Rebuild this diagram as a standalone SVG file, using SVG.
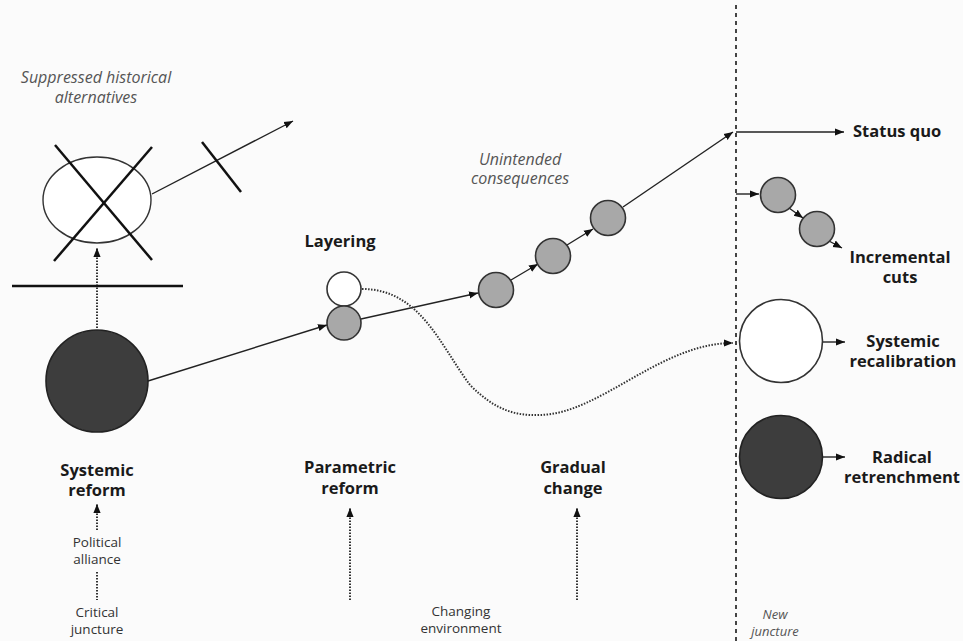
<svg xmlns="http://www.w3.org/2000/svg" width="963" height="641" viewBox="0 0 963 641">
  <style>
    .lbl { font-family: "Open Sans", "DejaVu Sans", sans-serif; font-weight: bold; font-size: 16.5px; fill: #1a1a1a; text-anchor: middle; }
    .lbl.start { text-anchor: start; }
    .note { font-family: "Open Sans", "DejaVu Sans", sans-serif; font-style: italic; font-size: 16px; fill: #555; text-anchor: middle; }
    .note.sm { font-size: 13px; }
    .small { font-family: "Open Sans", "DejaVu Sans", sans-serif; font-size: 13.5px; fill: #333; text-anchor: middle; }
    .line { stroke: #222; stroke-width: 1.4; fill: none; }
    .dot { stroke: #333; stroke-width: 2; stroke-dasharray: 1.5 1.5; fill: none; }
    .bar { stroke: #111; stroke-width: 2.5; fill: none; }
    .grey { fill: #a8a8a8; stroke: #333; stroke-width: 1.6; }
    .white { fill: #fff; stroke: #333; stroke-width: 1.6; }
    .dark { fill: #3d3d3d; stroke: #222; stroke-width: 1.6; }
  </style>
  <defs>
    <marker id="arr" viewBox="0 0 10 10" refX="10" refY="5" markerWidth="9" markerHeight="9" markerUnits="userSpaceOnUse" orient="auto">
      <path d="M0,1 L10,5 L0,9 Z" fill="#111"/>
    </marker>
  </defs>
  <rect width="963" height="641" fill="#fbfbfb"/>

  <!-- juncture divider -->
  <line x1="736" y1="5" x2="736" y2="641" stroke="#444" stroke-width="2" stroke-dasharray="4 4"/>

  <!-- connectors -->
  <g id="connectors">
    <line class="line" x1="152" y1="194" x2="293" y2="121" marker-end="url(#arr)"/>
    <line class="dot" x1="97" y1="328" x2="97" y2="248" marker-end="url(#arr)"/>
    <line class="line" x1="148" y1="381" x2="327" y2="325" marker-end="url(#arr)"/>
    <line class="line" x1="361" y1="319" x2="478" y2="293" marker-end="url(#arr)"/>
    <line class="line" x1="511" y1="280" x2="538" y2="264" marker-end="url(#arr)"/>
    <line class="line" x1="567" y1="245" x2="593" y2="229" marker-end="url(#arr)"/>
    <line class="line" x1="623" y1="207" x2="733" y2="132" marker-end="url(#arr)"/>
    <path class="dot" d="M362,289 C420,289 440,345 470,385 C495,410 515,416 540,415 C600,414 660,343 733,343" marker-end="url(#arr)"/>
    <line class="line" x1="736" y1="132" x2="844" y2="132" marker-end="url(#arr)"/>
    <line class="line" x1="736" y1="194" x2="759" y2="194" marker-end="url(#arr)"/>
    <line class="line" x1="789" y1="208" x2="803" y2="218" marker-end="url(#arr)"/>
    <line class="line" x1="829" y1="241" x2="842" y2="248" marker-end="url(#arr)"/>
    <line class="line" x1="823" y1="342" x2="845" y2="342" marker-end="url(#arr)"/>
    <line class="line" x1="823" y1="457" x2="845" y2="457" marker-end="url(#arr)"/>
    <line class="dot" x1="97" y1="530" x2="97" y2="504" marker-end="url(#arr)"/>
    <line class="dot" x1="97" y1="572" x2="97" y2="600"/>
    <line class="dot" x1="350" y1="600" x2="350" y2="508" marker-end="url(#arr)"/>
    <line class="dot" x1="577" y1="600" x2="577" y2="508" marker-end="url(#arr)"/>
  </g>

  <!-- suppressed alternative -->
  <g id="suppressed">
    <text class="note" x="96" y="83">Suppressed historical</text>
    <text class="note" x="96" y="103">alternatives</text>
    <ellipse cx="97" cy="200" rx="54" ry="43" fill="#fff" stroke="#333" stroke-width="1.4"/>
    <line class="bar" x1="55" y1="145" x2="152" y2="260"/>
    <line class="bar" x1="152" y1="147" x2="54" y2="261"/>
    <line class="bar" x1="202" y1="142" x2="241" y2="192"/>
    <line class="bar" x1="12" y1="286" x2="183" y2="286"/>
  </g>

  <g id="systemic-reform">
    <circle class="dark" cx="97" cy="381" r="51"/>
    <text class="lbl" x="97" y="476">Systemic</text>
    <text class="lbl" x="97" y="496">reform</text>
  </g>

  <g id="political-alliance">
    <text class="small" x="97" y="547">Political</text>
    <text class="small" x="97" y="564">alliance</text>
  </g>

  <g id="critical-juncture">
    <text class="small" x="97" y="617">Critical</text>
    <text class="small" x="97" y="634">juncture</text>
  </g>

  <g id="layering">
    <text class="lbl" x="340" y="247">Layering</text>
    <circle class="white" cx="344" cy="289" r="17"/>
    <circle class="grey" cx="344" cy="323" r="17"/>
  </g>

  <g id="parametric-reform">
    <text class="lbl" x="350" y="473">Parametric</text>
    <text class="lbl" x="350" y="494">reform</text>
  </g>

  <g id="gradual-change">
    <text class="note" x="520" y="165">Unintended</text>
    <text class="note" x="520" y="184">consequences</text>
    <circle class="grey" cx="496" cy="290" r="17.5"/>
    <circle class="grey" cx="553" cy="256" r="17.5"/>
    <circle class="grey" cx="608" cy="218" r="17.5"/>
    <text class="lbl" x="573" y="473">Gradual</text>
    <text class="lbl" x="573" y="494">change</text>
  </g>

  <g id="changing-environment">
    <text class="small" x="461" y="616">Changing</text>
    <text class="small" x="461" y="633">environment</text>
  </g>

  <g id="new-juncture">
    <text class="note sm" x="775" y="619">New</text>
    <text class="note sm" x="775" y="636">juncture</text>
  </g>

  <g id="status-quo">
    <text class="lbl start" x="853" y="137">Status quo</text>
  </g>

  <g id="incremental-cuts">
    <circle class="grey" cx="778" cy="195" r="17.5"/>
    <circle class="grey" cx="817" cy="229" r="17.5"/>
    <text class="lbl" x="900" y="263">Incremental</text>
    <text class="lbl" x="900" y="283">cuts</text>
  </g>

  <g id="systemic-recalibration">
    <circle class="white" cx="781" cy="341" r="41.5"/>
    <text class="lbl" x="903" y="347">Systemic</text>
    <text class="lbl" x="903" y="367">recalibration</text>
  </g>

  <g id="radical-retrenchment">
    <circle class="dark" cx="781" cy="457" r="41.5"/>
    <text class="lbl" x="902" y="463">Radical</text>
    <text class="lbl" x="902" y="483">retrenchment</text>
  </g>
</svg>
